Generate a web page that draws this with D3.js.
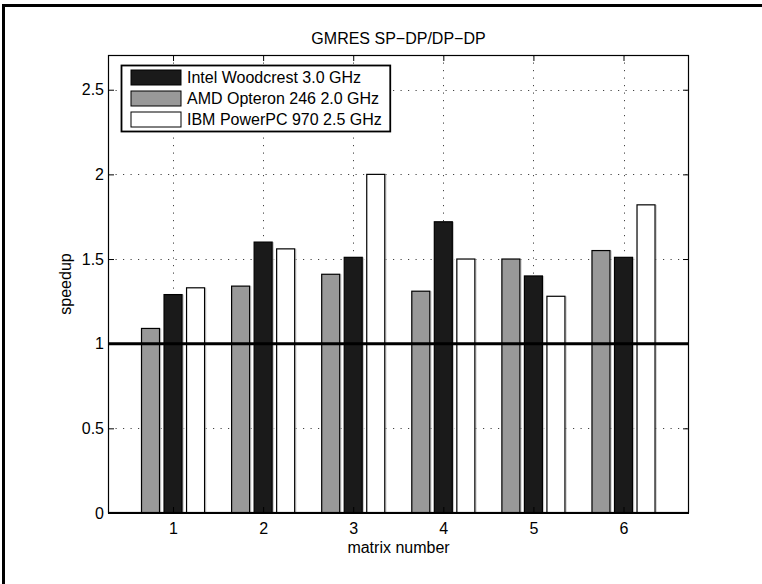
<!DOCTYPE html>
<html><head><meta charset="utf-8">
<script src="https://cdn.jsdelivr.net/npm/d3@7/dist/d3.min.js"></script>
<style>body{margin:0;background:#fff}svg{display:block}text{font-family:"Liberation Sans",Arial,Helvetica,sans-serif}</style>
</head><body><svg id="c" width="762" height="584"></svg>
<script>
const categories = [1, 2, 3, 4, 5, 6];
const seriesNames = ["AMD Opteron 246 2.0 GHz", "Intel Woodcrest 3.0 GHz", "IBM PowerPC 970 2.5 GHz"];
const amdValues = [1.09, 1.34, 1.41, 1.31, 1.50, 1.55];
const intelValues = [1.29, 1.60, 1.51, 1.72, 1.40, 1.51];
const ibmValues = [1.33, 1.56, 2.00, 1.50, 1.28, 1.82];
const yTicks = [0, 0.5, 1, 1.5, 2, 2.5];
const legendOrder = [1, 0, 2];
const seriesColors = ["#999999", "#1a1a1a", "#ffffff"];
const seriesOffsets = [-0.25, 0, 0.25];
const barWidth = 0.2;
const referenceLine = 1;

const FS = 16;
const svg = d3.select("#c");
const L = 108, R = 689, T = 55, B = 513;
const x = d3.scaleLinear().domain([0.278, 6.727]).range([L, R]);
const y = d3.scaleLinear().domain([0, 2.705]).range([B, T]);

// outer frame
svg.append("path").attr("d", "M3.5,590 L3.5,5.5 L770,5.5").attr("fill","none").attr("stroke","#000").attr("stroke-width",3);

svg.append("rect").attr("x",L).attr("y",T).attr("width",R-L).attr("height",B-T).attr("fill","#fff");

// grid
const grid = svg.append("g").attr("stroke","#444").attr("stroke-width",1).attr("stroke-dasharray","1.2,6.3");
yTicks.filter(t=>t>0).forEach(t=>{
  grid.append("line").attr("x1",L).attr("x2",R).attr("y1",Math.round(y(t))+0.5).attr("y2",Math.round(y(t))+0.5);
});
categories.forEach(c=>{
  grid.append("line").attr("x1",Math.round(x(c))+0.5).attr("x2",Math.round(x(c))+0.5).attr("y1",T).attr("y2",B);
});

// bars
const allSeries = [amdValues, intelValues, ibmValues];
const bw = x(barWidth) - x(0);
allSeries.forEach((vals, si)=>{
  const g = svg.append("g");
  g.selectAll("line.sh").data(vals).join("line").attr("class","sh")
    .attr("x1",(d,i)=>x(categories[i]+seriesOffsets[si]) + bw/2 + 1.2)
    .attr("x2",(d,i)=>x(categories[i]+seriesOffsets[si]) + bw/2 + 1.2)
    .attr("y1",d=>y(d)).attr("y2",y(0)).attr("stroke","#c8c8c8").attr("stroke-width",1);
  g.selectAll("rect").data(vals).join("rect")
    .attr("x",(d,i)=>x(categories[i]+seriesOffsets[si]) - bw/2)
    .attr("y",d=>y(d))
    .attr("width",bw)
    .attr("height",d=>y(0)-y(d))
    .attr("fill",seriesColors[si])
    .attr("stroke","#000").attr("stroke-width",1.2);
});

// reference line at 1
svg.append("line").attr("x1",L).attr("x2",R).attr("y1",y(referenceLine)).attr("y2",y(referenceLine))
  .attr("stroke","#000").attr("stroke-width",3);

// axes
const ax = svg.append("g");
ax.append("g").attr("transform",`translate(0,${B})`)
  .call(d3.axisBottom(x).tickValues(categories).tickSize(-6).tickPadding(10).tickFormat(d3.format("d")));
ax.append("g").attr("transform",`translate(0,${T})`)
  .call(d3.axisTop(x).tickValues(categories).tickSize(-6).tickFormat(""));
ax.append("g").attr("transform",`translate(${L},0)`)
  .call(d3.axisLeft(y).tickValues(yTicks).tickSize(-6).tickPadding(4).tickFormat(d=>String(d)));
ax.append("g").attr("transform",`translate(${R},0)`)
  .call(d3.axisRight(y).tickValues(yTicks).tickSize(-6).tickFormat(""));
ax.selectAll(".domain").remove();
ax.selectAll("line").attr("stroke","#000");
ax.selectAll("text").attr("font-size",FS).attr("fill","#000").attr("font-family",'"Liberation Sans",Arial,sans-serif');
svg.append("rect").attr("x",L+0.5).attr("y",T+0.5).attr("width",R-L-1).attr("height",B-T-1)
  .attr("fill","none").attr("stroke","#000").attr("stroke-width",1.2);
svg.append("line").attr("x1",L).attr("x2",R).attr("y1",B).attr("y2",B).attr("stroke","#000").attr("stroke-width",2);

// labels
svg.append("text").attr("x",(L+R)/2).attr("y",44).attr("text-anchor","middle").attr("font-size",FS).text("GMRES SP\u2212DP/DP\u2212DP");
svg.append("text").attr("x",(L+R)/2).attr("y",553).attr("text-anchor","middle").attr("font-size",FS).text("matrix number");
svg.append("text").attr("transform",`translate(71,${(T+B)/2}) rotate(-90)`).attr("text-anchor","middle").attr("font-size",FS).text("speedup");

// legend
const lg = svg.append("g").attr("transform","translate(121,65)");
const box = lg.append("rect").attr("x",0.5).attr("y",0.5).attr("height",66).attr("fill","#fff").attr("stroke","#000").attr("stroke-width",1.8);
let maxW = 0;
legendOrder.forEach((si,k)=>{
  const yy = 5 + k*21;
  lg.append("rect").attr("x",10).attr("y",yy).attr("width",50).attr("height",15)
    .attr("fill",seriesColors[si]).attr("stroke","#000").attr("stroke-width",1);
  const t = lg.append("text").attr("x",66).attr("y",yy+13).attr("font-size",FS).text(seriesNames[si]);
  maxW = Math.max(maxW, t.node().getComputedTextLength());
});
box.attr("width", 66 + maxW + 8);
</script></body></html>
